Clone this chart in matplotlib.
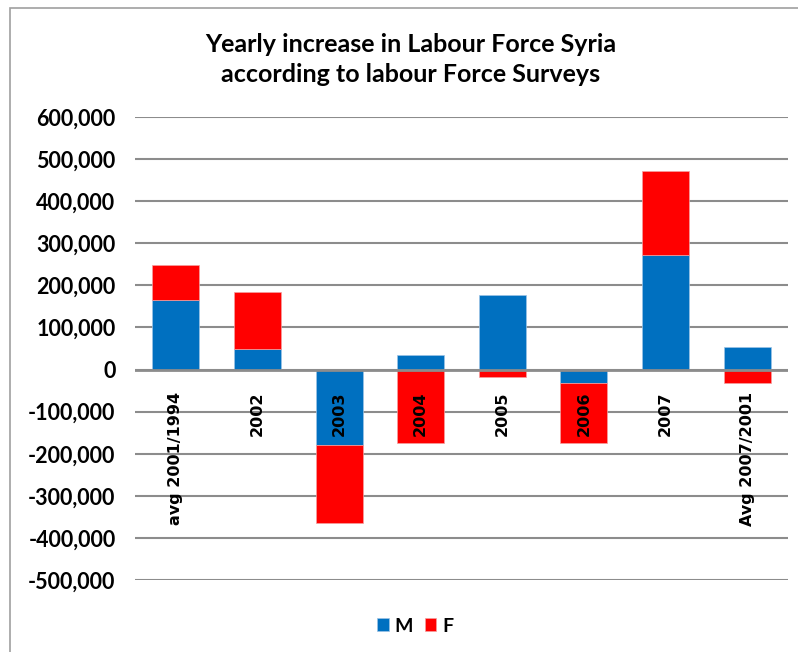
import matplotlib
matplotlib.use("Agg")
import matplotlib.pyplot as plt
from matplotlib.patches import Rectangle
import numpy as np

categories = ["avg 2001/1994", "2002", "2003", "2004", "2005", "2006", "2007", "Avg 2007/2001"]
male = [165000, 50000, -179000, 34000, 177000, -33000, 272000, 54000]
female = [84000, 135000, -186000, -175000, -17000, -142000, 199000, -33000]
yticks = [-500000, -400000, -300000, -200000, -100000, 0, 100000, 200000, 300000, 400000, 500000, 600000]

blue = "#0070C0"
red = "#FF0000"
grid_c = "#8C8C8C"

fig = plt.figure(figsize=(7.98, 6.52), dpi=100)
fig.patch.set_facecolor("white")
# outer border (chart area)
fig.add_artist(Rectangle((10 / 798, -0.1), 1.2, (652 - 8) / 652 + 0.1, transform=fig.transFigure,
                         fill=False, edgecolor="#A0A0A0", linewidth=1.2))

ax = fig.add_axes([135 / 798, (652 - 580) / 652, (788 - 135) / 798, (580 - 117) / 652])
ax.set_xlim(-0.5, len(categories) - 0.5)
ax.set_ylim(-500000, 600000)

x = np.arange(len(categories))
m = np.array(male, dtype=float)
f = np.array(female, dtype=float)
f_bottom = np.where(f >= 0, np.maximum(m, 0), np.minimum(m, 0))
w = 0.575
ax.bar(x, m, width=w, color=blue, edgecolor="#9DC3E6", linewidth=0.5, label="M", zorder=3)
ax.bar(x, f, bottom=f_bottom, width=w, color=red, edgecolor="#F4A0A0", linewidth=0.5, label="F", zorder=3)

ax.set_yticks(yticks)
ax.set_yticklabels([f"{v:,}" for v in yticks], fontfamily="Lato", fontweight="bold", fontsize=15.5)
ax.tick_params(axis="y", length=0, pad=14)
ax.set_xticks([])
ax.grid(axis="y", color=grid_c, linewidth=1.5, zorder=0)
ax.axhline(0, color=grid_c, linewidth=2, zorder=4)
for s in ax.spines.values():
    s.set_visible(False)

for xi, lab in zip(x, categories):
    ax.annotate(lab, xy=(xi, 0), xytext=(0, -22), textcoords="offset pixels",
                rotation=90, ha="center", va="top", fontfamily="DejaVu Sans",
                fontweight="bold", fontsize=11.5, zorder=5)

fig.text(411 / 798, 1 - 44 / 652, "Yearly increase in Labour Force Syria", ha="center", va="center",
         fontfamily="Lato", fontweight="bold", fontsize=18)
fig.text(411 / 798, 1 - 75 / 652, "according to labour Force Surveys", ha="center", va="center",
         fontfamily="Lato", fontweight="bold", fontsize=18)

leg = fig.legend(loc="center", bbox_to_anchor=(415 / 798, 1 - 626 / 652), ncol=2, frameon=False,
                 prop={"family": "Lato", "weight": "bold", "size": 14},
                 handlelength=0.6, handleheight=0.6, handletextpad=0.3, columnspacing=0.6)

fig.savefig("out.png", dpi=100)
